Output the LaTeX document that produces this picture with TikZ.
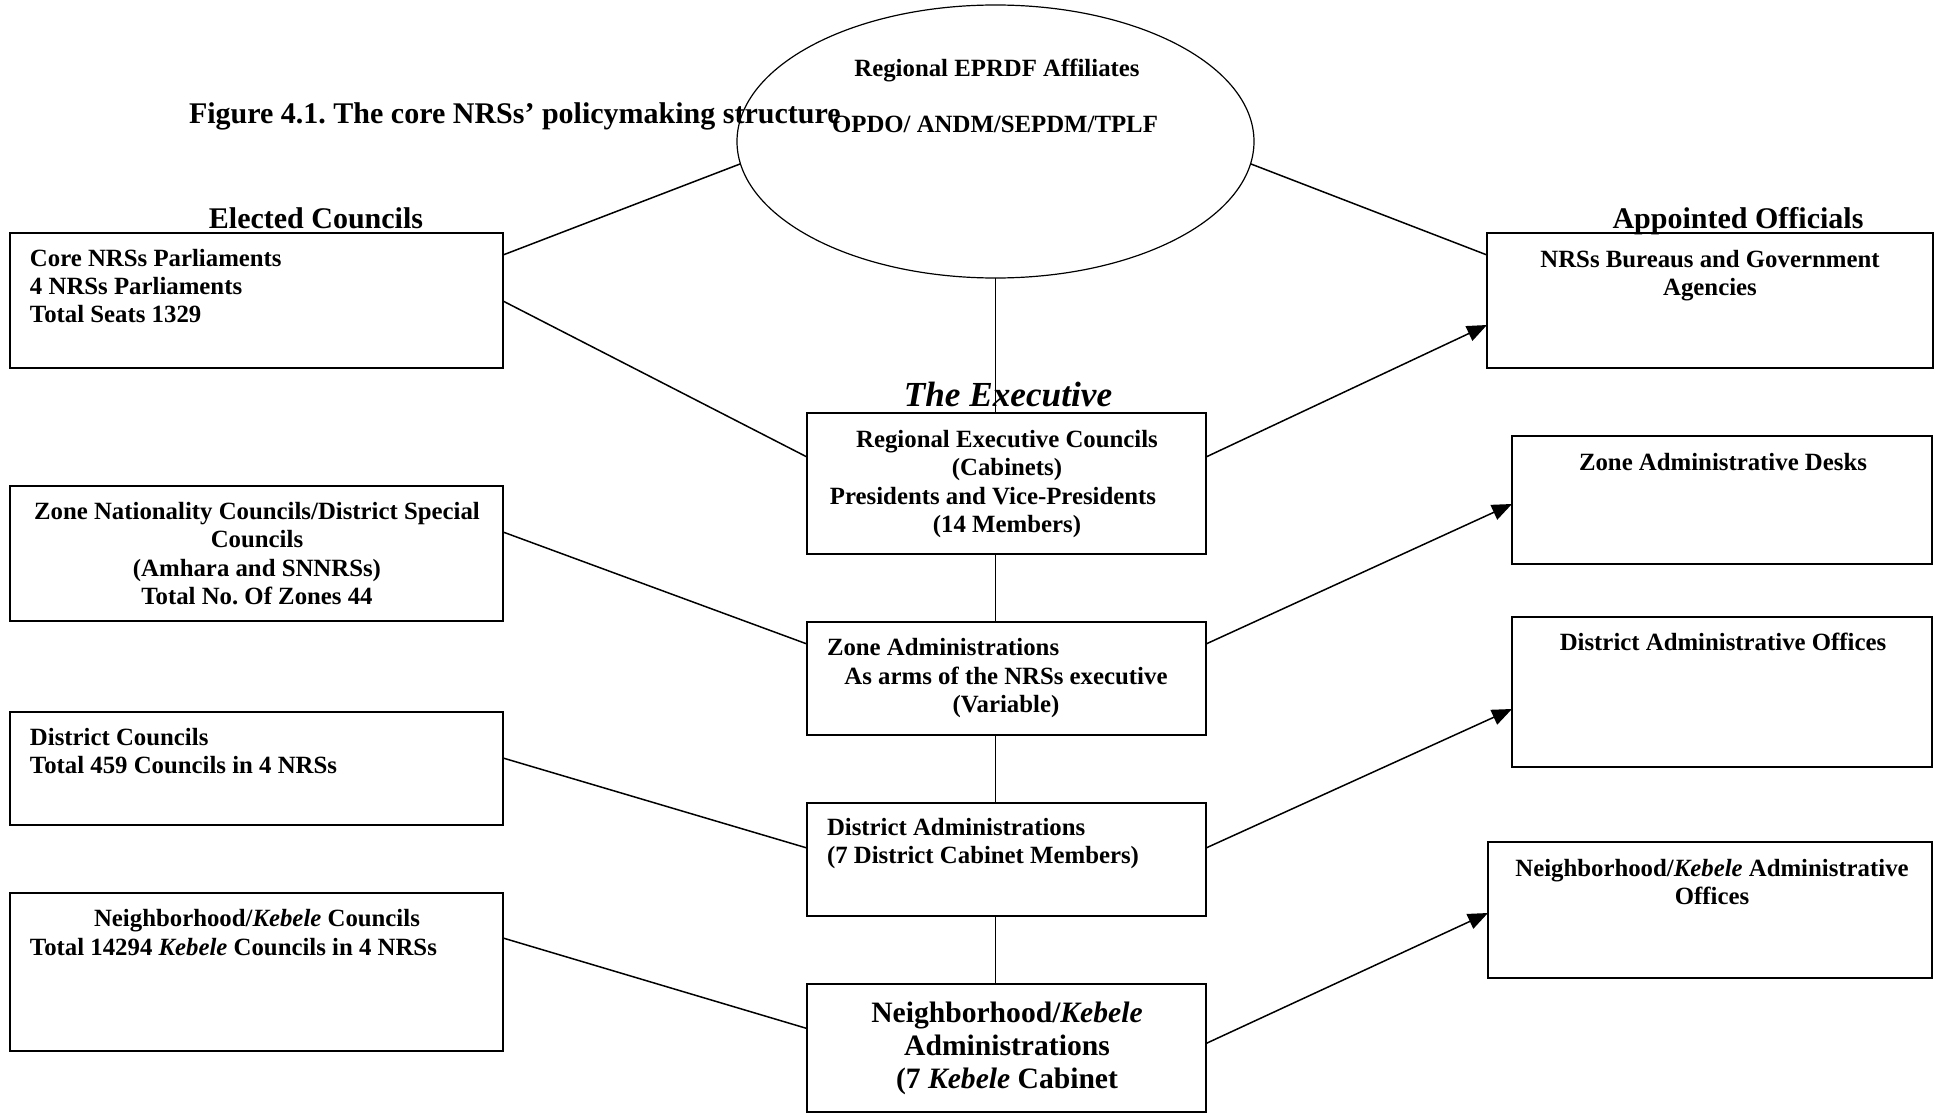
\documentclass[tikz,border=0pt]{standalone}
\usepackage{fontspec}
\setmainfont{Liberation Serif}
\usetikzlibrary{shapes.geometric,arrows.meta,calc}
\newcommand{\txtlines}[2]{\begin{tabular}[t]{@{}#1@{}}#2\end{tabular}}
\tikzset{
  box/.style={draw, line width=1pt, inner sep=0pt, outer sep=0pt},
  txt/.style={inner sep=0pt, outer sep=0pt, font=\fontsize{12.4}{14.25}\selectfont\bfseries\frenchspacing},
  head/.style={inner sep=0pt, outer sep=0pt, font=\fontsize{15}{17}\selectfont\bfseries\frenchspacing},
  big/.style={inner sep=0pt, outer sep=0pt, font=\fontsize{14.8}{16.5}\selectfont\bfseries\frenchspacing},
  conn/.style={line width=0.75pt},
  vconn/.style={line width=0.6pt},
  arr/.style={line width=0.75pt, -{Triangle[length=10pt,width=8pt]}}
}
\begin{document}
\frenchspacing
\begin{tikzpicture}[x=0.5pt,y=-0.5pt]
\useasboundingbox (0,0) rectangle (1940,1113);
% ellipse
\node[ellipse, draw, line width=0.6pt, minimum width=258.5pt, minimum height=136.5pt, inner sep=0pt, outer sep=0pt] (ell) at (995.5,141.5) {};
% left boxes
\node[box, minimum width=246.5pt, minimum height=67.5pt] (b1) at (256.5,300.5) {};
\node[box, minimum width=246.5pt, minimum height=67.5pt] (b2) at (256.5,553.5) {};
\node[box, minimum width=246.5pt, minimum height=56.5pt] (b3) at (256.5,768.5) {};
\node[box, minimum width=246.5pt, minimum height=79pt] (b4) at (256.5,972) {};
% centre boxes
\node[box, minimum width=199.5pt, minimum height=70.5pt] (A) at (1006.5,483.5) {};
\node[box, minimum width=199.5pt, minimum height=56.5pt] (B) at (1006.5,678.5) {};
\node[box, minimum width=199.5pt, minimum height=56.5pt] (C) at (1006.5,859.5) {};
\node[box, minimum width=199.5pt, minimum height=64pt] (D) at (1006.5,1047.5) {};
% right boxes
\node[box, minimum width=223pt, minimum height=67.5pt] (R1) at (1710,300.5) {};
\node[box, minimum width=210pt, minimum height=64pt] (R2) at (1722,500) {};
\node[box, minimum width=210pt, minimum height=75pt] (R3) at (1722,692) {};
\node[box, minimum width=222pt, minimum height=68pt] (R4) at (1710,910) {};
% headings
\node[head, anchor=base west] (title) at (189,124) {Figure 4.1. The core NRSs’ policymaking structure};
\node[head, anchor=base] (elected) at (316,228) {Elected Councils};
\node[head, anchor=base] (appointed) at (1738,228) {Appointed Officials};
\node[inner sep=0pt, outer sep=0pt, font=\fontsize{17.6}{20}\selectfont\bfseries\itshape, anchor=base] (exec) at (1008,406) {The Executive};
% ellipse text
\node[txt, anchor=base] (eprdf) at (997,77) {Regional EPRDF Affiliates};
\node[txt, anchor=base] (opdo) at (995,133) {OPDO/ ANDM/SEPDM/TPLF};
% left texts
\node[txt, anchor=base west] (t1) at (30,266) {\txtlines{l}{Core NRSs Parliaments\\4 NRSs Parliaments\\Total Seats 1329}};
\node[txt, anchor=base] (t2) at (257,519) {\txtlines{c}{Zone Nationality Councils/District Special\\Councils\\(Amhara and SNNRSs)\\Total No. Of Zones 44}};
\node[txt, anchor=base west] (t3) at (30,745) {\txtlines{l}{District Councils\\Total 459 Councils in 4 NRSs}};
\node[txt, anchor=base] (t4a) at (257,926) {Neighborhood/\textit{Kebele} Councils};
\node[txt, anchor=base west] (t4b) at (30,955) {Total 14294 \textit{Kebele} Councils in 4 NRSs};
% centre texts
\node[txt, anchor=base] (tA) at (1007,447) {\txtlines{c}{Regional Executive Councils\\(Cabinets)\\Presidents and Vice-Presidents\hspace*{14pt}\\(14 Members)}};
\node[txt, anchor=base west] (tBa) at (827,655) {Zone Administrations};
\node[txt, anchor=base] (tBb) at (1006,684) {\txtlines{c}{As arms of the NRSs executive\\(Variable)}};
\node[txt, anchor=base west] (tC) at (827,835) {\txtlines{l}{District Administrations\\(7 District Cabinet Members)}};
\node[big, anchor=base] (tD) at (1007,1022) {\txtlines{c}{Neighborhood/\textit{Kebele}\\Administrations\\(7 \textit{Kebele} Cabinet}};
% right texts
\node[txt, anchor=base] (tR1) at (1710,267) {\txtlines{c}{NRSs Bureaus and Government\\Agencies}};
\node[txt, anchor=base] (tR2) at (1723,470) {Zone Administrative Desks};
\node[txt, anchor=base] (tR3) at (1723,650) {District Administrative Offices};
\node[txt, anchor=base] (tR4) at (1712,876) {\txtlines{c}{Neighborhood/\textit{Kebele} Administrative\\Offices}};
% connectors from ellipse
\draw[conn] (ell.185) -- ($(b1.north east)+(0,22)$);
\draw[conn] (ell.355) -- ($(R1.north west)+(0,22)$);
\draw[vconn] (ell.south) -- (ell.south |- A.north);
\draw[vconn] (A.south -| ell.south) -- (B.north -| ell.south);
\draw[vconn] (B.south -| ell.south) -- (C.north -| ell.south);
\draw[vconn] (C.south -| ell.south) -- (D.north -| ell.south);
% councils to administrations
\draw[conn] ($(b1.north east)+(0,68)$) -- ($(A.north west)+(0,44)$);
\draw[conn] ($(b2.north east)+(0,46)$) -- ($(B.north west)+(0,22)$);
\draw[conn] ($(b3.north east)+(0,46)$) -- ($(C.north west)+(0,45)$);
\draw[conn] ($(b4.north east)+(0,45)$) -- ($(D.north west)+(0,45)$);
% administrations to appointed officials
\draw[arr] ($(A.north east)+(0,44)$) -- ($(R1.north west)+(0,92)$);
\draw[arr] ($(B.north east)+(0,22)$) -- ($(R2.north west)+(0,68)$);
\draw[arr] ($(C.north east)+(0,45)$) -- ($(R3.north west)+(0,92)$);
\draw[arr] ($(D.north east)+(0,60)$) -- ($(R4.north west)+(0,71)$);
\end{tikzpicture}
\end{document}
